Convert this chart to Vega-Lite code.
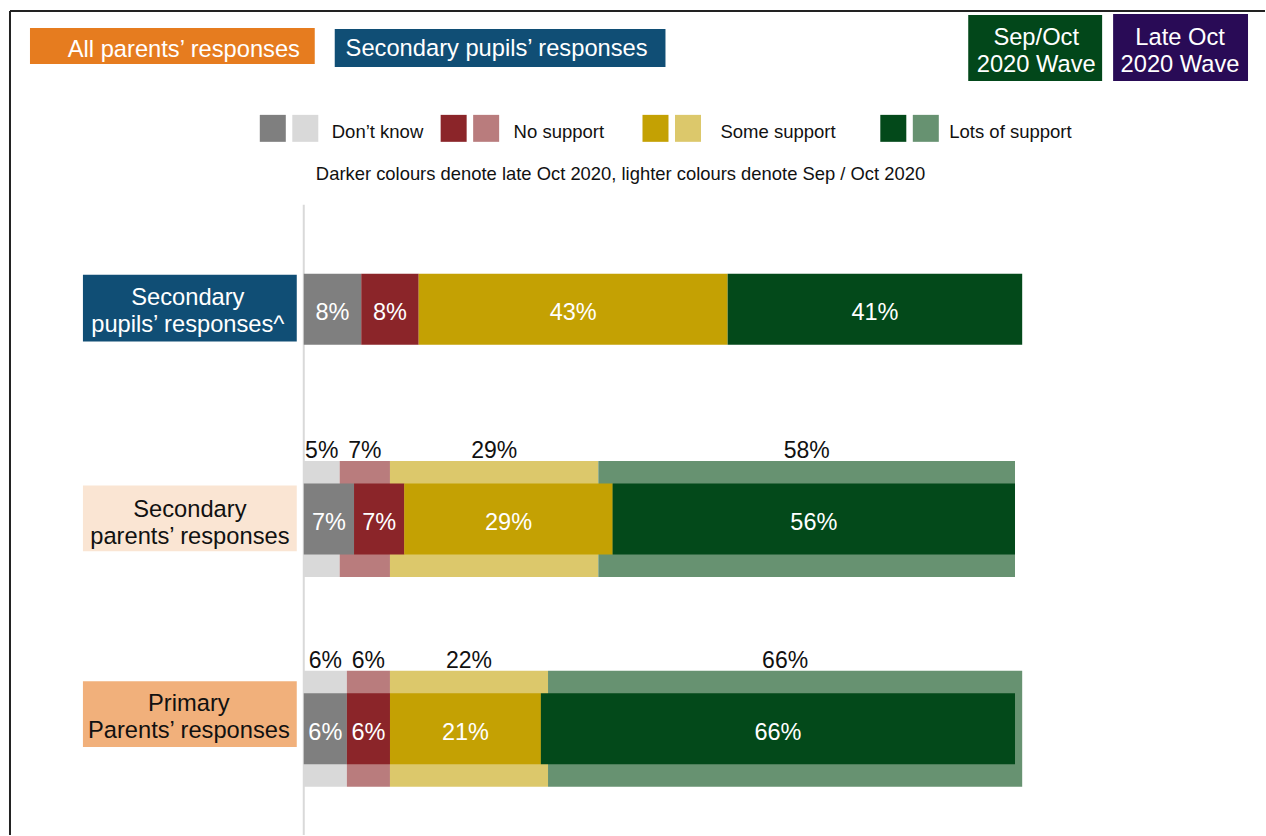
{
  "$schema": "https://vega.github.io/schema/vega-lite/v6.json",
  "width": 1266,
  "height": 836,
  "autosize": {"type": "fit", "contains": "padding"},
  "padding": 0,
  "background": "white",
  "config": {"view": {"stroke": null}, "font": "Liberation Sans"},
  "datasets": {
    "responses": [
      {"group": "Secondary pupils’ responses^", "rowpos": 1, "wave": "Late Oct 2020", "cat": "Don’t know", "value": 8},
      {"group": "Secondary pupils’ responses^", "rowpos": 1, "wave": "Late Oct 2020", "cat": "No support", "value": 8},
      {"group": "Secondary pupils’ responses^", "rowpos": 1, "wave": "Late Oct 2020", "cat": "Some support", "value": 43},
      {"group": "Secondary pupils’ responses^", "rowpos": 1, "wave": "Late Oct 2020", "cat": "Lots of support", "value": 41},
      {"group": "Secondary parents’ responses", "rowpos": 2, "wave": "Late Oct 2020", "cat": "Don’t know", "value": 7},
      {"group": "Secondary parents’ responses", "rowpos": 2, "wave": "Late Oct 2020", "cat": "No support", "value": 7},
      {"group": "Secondary parents’ responses", "rowpos": 2, "wave": "Late Oct 2020", "cat": "Some support", "value": 29},
      {"group": "Secondary parents’ responses", "rowpos": 2, "wave": "Late Oct 2020", "cat": "Lots of support", "value": 56},
      {"group": "Secondary parents’ responses", "rowpos": 2, "wave": "Sep/Oct 2020", "cat": "Don’t know", "value": 5},
      {"group": "Secondary parents’ responses", "rowpos": 2, "wave": "Sep/Oct 2020", "cat": "No support", "value": 7},
      {"group": "Secondary parents’ responses", "rowpos": 2, "wave": "Sep/Oct 2020", "cat": "Some support", "value": 29},
      {"group": "Secondary parents’ responses", "rowpos": 2, "wave": "Sep/Oct 2020", "cat": "Lots of support", "value": 58},
      {"group": "Primary Parents’ responses", "rowpos": 3, "wave": "Late Oct 2020", "cat": "Don’t know", "value": 6},
      {"group": "Primary Parents’ responses", "rowpos": 3, "wave": "Late Oct 2020", "cat": "No support", "value": 6},
      {"group": "Primary Parents’ responses", "rowpos": 3, "wave": "Late Oct 2020", "cat": "Some support", "value": 21},
      {"group": "Primary Parents’ responses", "rowpos": 3, "wave": "Late Oct 2020", "cat": "Lots of support", "value": 66},
      {"group": "Primary Parents’ responses", "rowpos": 3, "wave": "Sep/Oct 2020", "cat": "Don’t know", "value": 6},
      {"group": "Primary Parents’ responses", "rowpos": 3, "wave": "Sep/Oct 2020", "cat": "No support", "value": 6},
      {"group": "Primary Parents’ responses", "rowpos": 3, "wave": "Sep/Oct 2020", "cat": "Some support", "value": 22},
      {"group": "Primary Parents’ responses", "rowpos": 3, "wave": "Sep/Oct 2020", "cat": "Lots of support", "value": 66}
    ],
    "panels": [
      {"name": "All parents", "x0": -38.108, "x1": 1.530, "y0": -0.3405, "y1": -0.1690, "tx": -16.690, "ty": -0.2024, "text": ["All parents’ responses"]},
      {"name": "Secondary pupils", "x0": 4.312, "x1": 50.348, "y0": -0.3357, "y1": -0.1548, "tx": 26.843, "ty": -0.2071, "text": ["Secondary pupils’ responses"]},
      {"name": "SepOct", "x0": 92.490, "x1": 111.127, "y0": -0.4024, "y1": -0.0881, "tx": 101.947, "ty": -0.2595, "text": ["Sep/Oct", "2020 Wave"]},
      {"name": "LateOct", "x0": 112.656, "x1": 131.433, "y0": -0.4071, "y1": -0.0881, "tx": 121.975, "ty": -0.2595, "text": ["Late Oct", "2020 Wave"]},
      {"name": "row1", "x0": -30.737, "x1": -0.974, "y0": 0.8357, "y1": 1.1548, "tx": -16.134, "ty": 0.9786, "text": ["Secondary", "pupils’ responses^"]},
      {"name": "row2", "x0": -30.737, "x1": -0.974, "y0": 1.8405, "y1": 2.1548, "tx": -15.855, "ty": 1.9905, "text": ["Secondary", "parents’ responses"]},
      {"name": "row3", "x0": -30.737, "x1": -0.974, "y0": 2.7738, "y1": 3.0881, "tx": -15.994, "ty": 2.9152, "text": ["Primary", "Parents’ responses"]}
    ],
    "legend": [
      {"cat": "Don’t know", "sq": -6.1196, "tx": 3.8943},
      {"cat": "No support", "sq": 19.0542, "tx": 29.2072},
      {"cat": "Some support", "sq": 47.1488, "tx": 57.9972},
      {"cat": "Lots of support", "sq": 80.2503, "tx": 89.8470}
    ]
  },
  "layer": [
    {
      "data": {"values": [{}]},
      "mark": {"type": "rule", "color": "#222222", "strokeWidth": 2},
      "encoding": {
        "x": {"datum": -40.89, "type": "quantitative", "scale": {"domain": [-42.281, 133.797], "nice": false, "zero": false}, "axis": null},
        "x2": {"datum": 133.797},
        "y": {"datum": -0.4214, "type": "quantitative", "scale": {"domain": [-0.47381, 3.50714], "nice": false, "zero": false, "reverse": true}, "axis": null}
      }
    },
    {
      "data": {"values": [{}]},
      "mark": {"type": "rule", "color": "#222222", "strokeWidth": 2},
      "encoding": {
        "x": {"datum": -40.89, "type": "quantitative", "scale": {"domain": [-42.281, 133.797], "nice": false, "zero": false}, "axis": null},
        "y": {"datum": -0.4214, "type": "quantitative", "scale": {"domain": [-0.47381, 3.50714], "nice": false, "zero": false, "reverse": true}, "axis": null},
        "y2": {"datum": 3.50714}
      }
    },
    {
      "data": {"values": [{}]},
      "mark": {"type": "rule", "color": "#d9d9d9", "strokeWidth": 2},
      "encoding": {
        "x": {"datum": 0, "type": "quantitative", "scale": {"domain": [-42.281, 133.797], "nice": false, "zero": false}, "axis": null},
        "y": {"datum": 0.5024, "type": "quantitative", "scale": {"domain": [-0.47381, 3.50714], "nice": false, "zero": false, "reverse": true}, "axis": null},
        "y2": {"datum": 3.50714}
      }
    },
    {
      "data": {"name": "panels"},
      "mark": {"type": "rect"},
      "encoding": {
        "x": {"field": "x0", "type": "quantitative", "scale": {"domain": [-42.281, 133.797], "nice": false, "zero": false}, "axis": null},
        "x2": {"field": "x1"},
        "y": {"field": "y0", "type": "quantitative", "scale": {"domain": [-0.47381, 3.50714], "nice": false, "zero": false, "reverse": true}, "axis": null},
        "y2": {"field": "y1"},
        "color": {"field": "name", "type": "nominal", "legend": null,
          "scale": {"domain": ["All parents", "Secondary pupils", "SepOct", "LateOct", "row1", "row2", "row3"],
                    "range": ["#E67C1F", "#104E75", "#02471A", "#290B56", "#104E75", "#FAE5D3", "#F1B07B"]}}
      }
    },
    {
      "data": {"name": "panels"},
      "mark": {"type": "text", "fontSize": 23.7, "align": "center", "baseline": "alphabetic", "lineHeight": 27},
      "encoding": {
        "x": {"field": "tx", "type": "quantitative", "scale": {"domain": [-42.281, 133.797], "nice": false, "zero": false}, "axis": null},
        "y": {"field": "ty", "type": "quantitative", "scale": {"domain": [-0.47381, 3.50714], "nice": false, "zero": false, "reverse": true}, "axis": null},
        "text": {"field": "text"},
        "color": {"field": "name", "type": "nominal", "legend": null,
          "scale": {"domain": ["All parents", "Secondary pupils", "SepOct", "LateOct", "row1", "row2", "row3"],
                    "range": ["#ffffff", "#ffffff", "#ffffff", "#ffffff", "#ffffff", "#111111", "#111111"]}}
      }
    },
    {
      "data": {"name": "legend"},
      "mark": {"type": "rect", "x2Offset": 26},
      "encoding": {
        "x": {"field": "sq", "type": "quantitative", "scale": {"domain": [-42.281, 133.797], "nice": false, "zero": false}, "axis": null},
        "x2": {"field": "sq"},
        "y": {"datum": 0.0738, "type": "quantitative", "scale": {"domain": [-0.47381, 3.50714], "nice": false, "zero": false, "reverse": true}, "axis": null},
        "y2": {"datum": 0.2024},
        "color": {"field": "cat", "type": "nominal", "legend": null,
          "scale": {"domain": ["Don’t know", "No support", "Some support", "Lots of support"], "range": ["#7F7F7F", "#8B2529", "#C4A103", "#03491A"]}}
      }
    },
    {
      "data": {"name": "legend"},
      "mark": {"type": "rect", "xOffset": 32.5, "x2Offset": 58.5},
      "encoding": {
        "x": {"field": "sq", "type": "quantitative", "scale": {"domain": [-42.281, 133.797], "nice": false, "zero": false}, "axis": null},
        "x2": {"field": "sq"},
        "y": {"datum": 0.0738, "type": "quantitative", "scale": {"domain": [-0.47381, 3.50714], "nice": false, "zero": false, "reverse": true}, "axis": null},
        "y2": {"datum": 0.2024},
        "color": {"field": "cat", "type": "nominal", "legend": null,
          "scale": {"domain": ["Don’t know", "No support", "Some support", "Lots of support"], "range": ["#D9D9D9", "#B97C7D", "#DCC86B", "#679271"]}}
      }
    },
    {
      "data": {"name": "legend"},
      "mark": {"type": "text", "fontSize": 18.5, "align": "left", "baseline": "alphabetic", "color": "#111111"},
      "encoding": {
        "x": {"field": "tx", "type": "quantitative", "scale": {"domain": [-42.281, 133.797], "nice": false, "zero": false}, "axis": null},
        "y": {"datum": 0.1833, "type": "quantitative", "scale": {"domain": [-0.47381, 3.50714], "nice": false, "zero": false, "reverse": true}, "axis": null},
        "text": {"field": "cat"}
      }
    },
    {
      "data": {"values": [{"t": "Darker colours denote late Oct 2020, lighter colours denote Sep / Oct 2020"}]},
      "mark": {"type": "text", "fontSize": 18.4, "align": "center", "baseline": "alphabetic", "color": "#111111"},
      "encoding": {
        "x": {"datum": 44.089, "type": "quantitative", "scale": {"domain": [-42.281, 133.797], "nice": false, "zero": false}, "axis": null},
        "y": {"datum": 0.3833, "type": "quantitative", "scale": {"domain": [-0.47381, 3.50714], "nice": false, "zero": false, "reverse": true}, "axis": null},
        "text": {"field": "t"}
      }
    },
    {
      "data": {"name": "responses"},
      "transform": [
        {"filter": "datum.wave === 'Sep/Oct 2020'"},
        {"calculate": "indexof(['Don’t know','No support','Some support','Lots of support'], datum.cat)", "as": "k"},
        {"stack": "value", "groupby": ["group", "wave"], "sort": [{"field": "k", "order": "ascending"}], "as": ["x0", "x1"]}
      ],
      "mark": {"type": "rect", "yOffset": -58, "y2Offset": 58},
      "encoding": {
        "x": {"field": "x0", "type": "quantitative", "scale": {"domain": [-42.281, 133.797], "nice": false, "zero": false}, "axis": null},
        "x2": {"field": "x1"},
        "y": {"field": "rowpos", "type": "quantitative", "scale": {"domain": [-0.47381, 3.50714], "nice": false, "zero": false, "reverse": true}, "axis": null},
        "y2": {"field": "rowpos"},
        "color": {"field": "cat", "type": "nominal", "legend": null,
          "scale": {"domain": ["Don’t know", "No support", "Some support", "Lots of support"], "range": ["#D9D9D9", "#B97C7D", "#DCC86B", "#679271"]}}
      }
    },
    {
      "data": {"name": "responses"},
      "transform": [
        {"filter": "datum.wave === 'Sep/Oct 2020'"},
        {"calculate": "indexof(['Don’t know','No support','Some support','Lots of support'], datum.cat)", "as": "k"},
        {"stack": "value", "groupby": ["group", "wave"], "sort": [{"field": "k", "order": "ascending"}], "as": ["x0", "x1"]},
        {"calculate": "(datum.x0 + datum.x1) / 2", "as": "mid"},
        {"calculate": "datum.value + '%'", "as": "label"}
      ],
      "mark": {"type": "text", "fontSize": 23, "align": "center", "baseline": "alphabetic", "dy": -60.5, "color": "#111111"},
      "encoding": {
        "x": {"field": "mid", "type": "quantitative", "scale": {"domain": [-42.281, 133.797], "nice": false, "zero": false}, "axis": null},
        "y": {"field": "rowpos", "type": "quantitative", "scale": {"domain": [-0.47381, 3.50714], "nice": false, "zero": false, "reverse": true}, "axis": null},
        "text": {"field": "label"}
      }
    },
    {
      "data": {"name": "responses"},
      "transform": [
        {"filter": "datum.wave === 'Late Oct 2020'"},
        {"calculate": "indexof(['Don’t know','No support','Some support','Lots of support'], datum.cat)", "as": "k"},
        {"stack": "value", "groupby": ["group", "wave"], "sort": [{"field": "k", "order": "ascending"}], "as": ["x0", "x1"]}
      ],
      "mark": {"type": "rect", "yOffset": -35.5, "y2Offset": 35.5},
      "encoding": {
        "x": {"field": "x0", "type": "quantitative", "scale": {"domain": [-42.281, 133.797], "nice": false, "zero": false}, "axis": null},
        "x2": {"field": "x1"},
        "y": {"field": "rowpos", "type": "quantitative", "scale": {"domain": [-0.47381, 3.50714], "nice": false, "zero": false, "reverse": true}, "axis": null},
        "y2": {"field": "rowpos"},
        "color": {"field": "cat", "type": "nominal", "legend": null,
          "scale": {"domain": ["Don’t know", "No support", "Some support", "Lots of support"], "range": ["#7F7F7F", "#8B2529", "#C4A103", "#03491A"]}}
      }
    },
    {
      "data": {"name": "responses"},
      "transform": [
        {"filter": "datum.wave === 'Late Oct 2020'"},
        {"calculate": "indexof(['Don’t know','No support','Some support','Lots of support'], datum.cat)", "as": "k"},
        {"stack": "value", "groupby": ["group", "wave"], "sort": [{"field": "k", "order": "ascending"}], "as": ["x0", "x1"]},
        {"calculate": "(datum.x0 + datum.x1) / 2", "as": "mid"},
        {"calculate": "datum.value + '%'", "as": "label"}
      ],
      "mark": {"type": "text", "fontSize": 23.5, "align": "center", "baseline": "alphabetic", "dy": 11, "color": "#ffffff"},
      "encoding": {
        "x": {"field": "mid", "type": "quantitative", "scale": {"domain": [-42.281, 133.797], "nice": false, "zero": false}, "axis": null},
        "y": {"field": "rowpos", "type": "quantitative", "scale": {"domain": [-0.47381, 3.50714], "nice": false, "zero": false, "reverse": true}, "axis": null},
        "text": {"field": "label"}
      }
    }
  ],
  "resolve": {"scale": {"color": "independent"}}
}
